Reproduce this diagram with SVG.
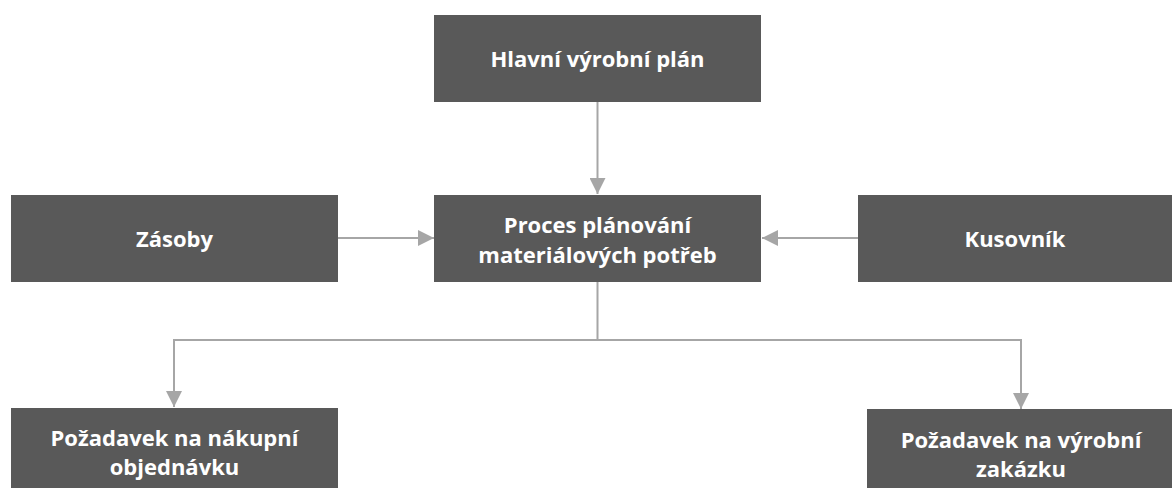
<svg xmlns="http://www.w3.org/2000/svg" width="1172" height="488" viewBox="0 0 1172 488">
<style>
.node{fill:#595959}
.t{font-family:"Open Sans","Liberation Sans",sans-serif;font-weight:bold;font-size:22px;fill:#ffffff;text-anchor:middle}
.c{stroke:#A6A6A6;stroke-width:2;fill:none}
</style>
<defs>
<marker id="ah" viewBox="0 0 10 10" refX="10" refY="5" markerWidth="16" markerHeight="16" markerUnits="userSpaceOnUse" orient="auto">
<path d="M0,0 L10,5 L0,10 Z" fill="#A6A6A6"/>
</marker>
</defs>
<rect width="1172" height="488" fill="#ffffff"/>
<g id="connectors">
<line class="c" x1="597.5" y1="102" x2="597.5" y2="194" marker-end="url(#ah)"/>
<line class="c" x1="338" y1="238" x2="434" y2="238" marker-end="url(#ah)"/>
<line class="c" x1="858" y1="238" x2="762" y2="238" marker-end="url(#ah)"/>
<polyline class="c" points="597.5,282 597.5,340 174,340 174,407" marker-end="url(#ah)"/>
<polyline class="c" points="597.5,340 1021,340 1021,409" marker-end="url(#ah)"/>
</g>
<g id="n-hlavni">
<rect class="node" x="434" y="15" width="327" height="87"/>
<text class="t" x="597.5" y="67">Hlavní výrobní plán</text>
</g>
<g id="n-proces">
<rect class="node" x="434" y="195" width="327" height="87"/>
<text class="t" x="597.5" y="233">Proces plánování</text>
<text class="t" x="597.5" y="263">materiálových potřeb</text>
</g>
<g id="n-zasoby">
<rect class="node" x="11" y="195" width="327" height="87"/>
<text class="t" x="174.5" y="247">Zásoby</text>
</g>
<g id="n-kusovnik">
<rect class="node" x="858" y="195" width="314" height="87"/>
<text class="t" x="1015" y="247">Kusovník</text>
</g>
<g id="n-nakupni">
<rect class="node" x="11" y="408" width="327" height="87"/>
<text class="t" x="174.5" y="446">Požadavek na nákupní</text>
<text class="t" x="174.5" y="475">objednávku</text>
</g>
<g id="n-vyrobni">
<rect class="node" x="867" y="409" width="310" height="87"/>
<text class="t" x="1021" y="448">Požadavek na výrobní</text>
<text class="t" x="1021" y="477">zakázku</text>
</g>
</svg>
